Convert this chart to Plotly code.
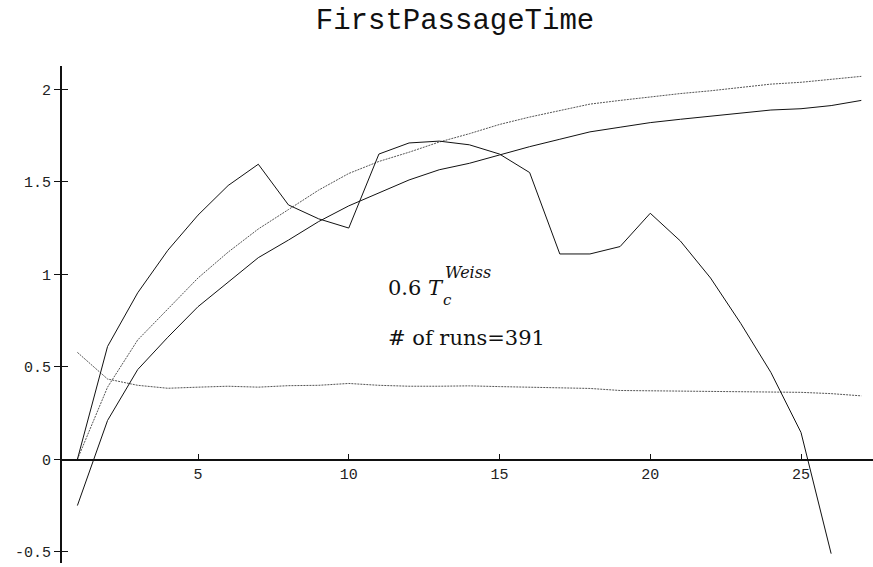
import plotly.graph_objects as go

# ---- data ----
x_a = list(range(1, 27))
series_a = [0.0, 0.61, 0.90, 1.13, 1.32, 1.48, 1.595, 1.375, 1.30, 1.25, 1.65, 1.71, 1.72,
            1.70, 1.65, 1.55, 1.11, 1.11, 1.15, 1.33, 1.18, 0.98, 0.735, 0.47, 0.145, -0.51]
x_full = list(range(1, 28))
series_b = [-0.25, 0.21, 0.485, 0.66, 0.825, 0.96, 1.09, 1.185, 1.285, 1.37, 1.44, 1.51, 1.565,
            1.60, 1.645, 1.69, 1.73, 1.77, 1.795, 1.82, 1.838, 1.855, 1.873, 1.888, 1.895, 1.912, 1.94]
series_c = [0.0, 0.39, 0.645, 0.81, 0.98, 1.12, 1.245, 1.35, 1.455, 1.545, 1.61, 1.66, 1.715,
            1.76, 1.81, 1.85, 1.885, 1.92, 1.94, 1.96, 1.977, 1.992, 2.01, 2.028, 2.038, 2.052, 2.07]
series_d = [0.578, 0.434, 0.40, 0.384, 0.39, 0.395, 0.39, 0.398, 0.40, 0.41, 0.40, 0.395, 0.395,
            0.397, 0.393, 0.39, 0.385, 0.383, 0.372, 0.37, 0.369, 0.368, 0.368, 0.366, 0.362, 0.355, 0.343]
x_ticks = [5, 10, 15, 20, 25]
y_ticks = [-0.5, 0, 0.5, 1, 1.5, 2]
y_tick_labels = ["-0.5", "0", "0.5", "1", "1.5", "2"]
title_text = "FirstPassageTime"

W, H = 873, 567
solid = dict(color="#111111", width=1)
dotted = dict(color="#555555", width=1, dash="2px,1px")

fig = go.Figure()
fig.add_trace(go.Scatter(x=x_full, y=series_c, mode="lines", line=dotted, showlegend=False))
fig.add_trace(go.Scatter(x=x_full, y=series_d, mode="lines", line=dotted, showlegend=False))
fig.add_trace(go.Scatter(x=x_full, y=series_b, mode="lines", line=solid, showlegend=False))
fig.add_trace(go.Scatter(x=x_a, y=series_a, mode="lines", line=solid, showlegend=False))

tickfont = dict(family="Liberation Mono", size=15, color="#222222")
y_common = dict(domain=[1 - 563 / H, 1 - 66 / H], range=[-0.5605, 2.126], anchor="free",
                position=61 / W, showgrid=False, zeroline=False, tickmode="array",
                tickvals=y_ticks, ticktext=y_tick_labels, tickwidth=1, tickcolor="#111",
                ticklen=6, automargin=False)

fig.update_layout(
    width=W, height=H, margin=dict(l=0, r=0, t=0, b=0),
    paper_bgcolor="white", plot_bgcolor="white", template="none",
    title=dict(text=title_text, x=455 / W, y=1 - 19 / H, xanchor="center", yanchor="middle",
               font=dict(family="Liberation Mono", size=29, color="#111")),
    xaxis=dict(domain=[61 / W, 1], range=[0.456, 27.388], anchor="free", position=1 - 459.5 / H,
               showline=True, linewidth=2, linecolor="#111", ticks="inside", ticklen=5,
               tickwidth=1, tickcolor="#111", tickvals=x_ticks, showgrid=False, zeroline=False,
               tickfont=tickfont, automargin=False),
    yaxis=dict(**y_common, showline=True, linewidth=2, linecolor="#111", ticks="outside",
               tickfont=tickfont),
    yaxis2=dict(**y_common, overlaying="y", showline=False, ticks="inside", showticklabels=False),
)
# dummy trace so yaxis2 is drawn
fig.add_trace(go.Scatter(x=[None], y=[None], yaxis="y2", showlegend=False, hoverinfo="skip"))

ann_font = dict(family="DejaVu Serif", size=21, color="#111")
fig.add_annotation(text="0.6 <i>T</i>", x=386 / W, y=1 - 288 / H, xref="paper", yref="paper",
                   xanchor="left", yanchor="middle", showarrow=False, font=ann_font)
fig.add_annotation(text="<i>c</i>", x=441 / W, y=1 - 300 / H, xref="paper", yref="paper",
                   xanchor="left", yanchor="middle", showarrow=False,
                   font=dict(family="DejaVu Serif", size=15, color="#111"))
fig.add_annotation(text="<i>Weiss</i>", x=443 / W, y=1 - 272 / H, xref="paper", yref="paper",
                   xanchor="left", yanchor="middle", showarrow=False,
                   font=dict(family="DejaVu Serif", size=16, color="#111"))
fig.add_annotation(text="# of runs=391", x=386 / W, y=1 - 338 / H, xref="paper", yref="paper",
                   xanchor="left", yanchor="middle", showarrow=False, font=ann_font)

fig.write_html("out.html")
